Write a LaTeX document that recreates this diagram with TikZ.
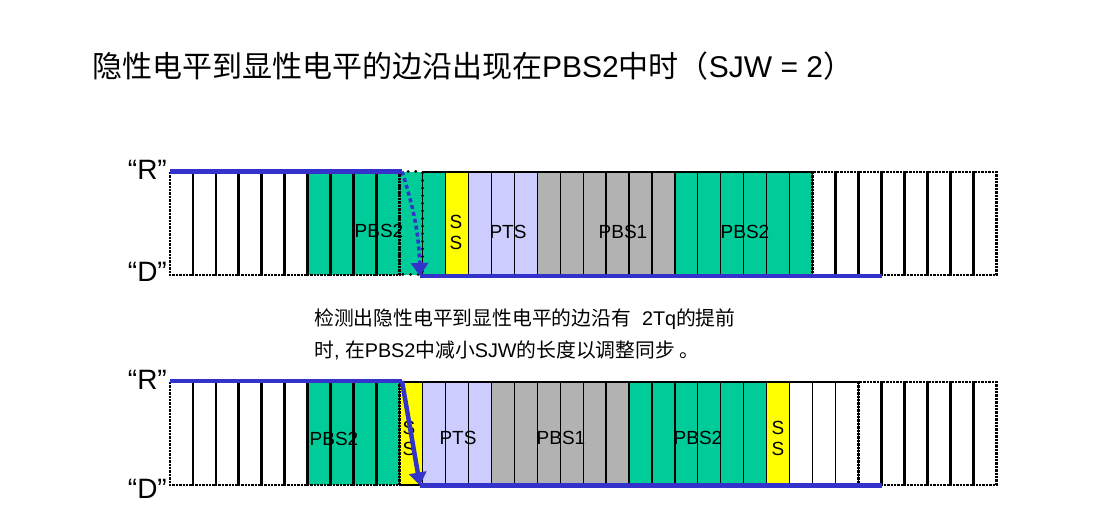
\documentclass[tikz,border=0pt]{standalone}
\usepackage{fontspec}
\setmainfont{Liberation Sans}
\newfontfamily\cjk{Noto Sans CJK SC}
\usetikzlibrary{arrows.meta}
\definecolor{CanGreen}{RGB}{0,204,153}
\definecolor{SsYellow}{RGB}{255,255,0}
\definecolor{PtsLilac}{RGB}{204,204,255}
\definecolor{PbsGray}{RGB}{178,178,178}
\definecolor{SigBlue}{RGB}{51,51,204}
\tikzset{
  cell/.style={rectangle,anchor=north west,minimum width=22.95pt,minimum height=103pt,inner sep=0pt,outer sep=0pt},
  wdot/.style={cell,fill=white},
  gdot/.style={cell,fill=CanGreen},
  gloose/.style={cell,fill=CanGreen},
  gcell/.style={cell,draw=black,line width=1.2pt,fill=CanGreen},
  ycell/.style={cell,draw=black,line width=1.2pt,fill=SsYellow},
  lcell/.style={cell,draw=black,line width=1.2pt,fill=PtsLilac},
  kcell/.style={cell,draw=black,line width=1.2pt,fill=PbsGray},
  wcell/.style={cell,draw=black,line width=1.2pt,fill=white},
  dotline/.style={draw=black,line width=2.8pt,dash pattern=on 2.4pt off 1pt},
  looseline/.style={draw=black,line width=3pt,dash pattern=on 0.1pt off 7.5pt,line cap=round},
}
\tikzset{sig/.style={draw=SigBlue,line width=4.5pt}, lvl/.style={anchor=base east,inner sep=0pt,font=\fontsize{28}{30}\selectfont}, seg/.style={inner sep=0pt,align=center,font=\fontsize{19}{21}\selectfont}}

\begin{document}
\begin{tikzpicture}[x=1pt,y=-1pt]
\useasboundingbox (0,0) rectangle (1114,518);
\node[anchor=base west,inner sep=0pt,font=\fontsize{30}{32}\selectfont] (title) at (92,78) {{\cjk 隐性电平到显性电平的边沿出现在}PBS2{\cjk 中时（}SJW = 2{\cjk ）}};
\foreach \a/\b/\k in {0/5/wdot,6/9/gdot,10/10/gloose,11/11/gcell,12/12/ycell,13/15/lcell,16/21/kcell,22/27/gcell,28/35/wdot}
  \foreach \i in {\a,...,\b}
    \node[\k] (t\i) at ({170+22.95*\i},172) {};
\foreach \a/\b/\k in {0/5/wdot,6/9/gdot,10/10/ycell,11/13/lcell,14/19/kcell,20/25/gcell,26/26/ycell,27/29/wcell,30/35/wdot}
  \foreach \i in {\a,...,\b}
    \node[\k] (b\i) at ({170+22.95*\i},382) {};
\foreach \i in {0,...,9,28,29,30,31,32,33,34,35}
  \draw[dotline] (t\i.north west) rectangle (t\i.south east);
\draw[looseline] (t10.north west) rectangle (t10.south east);
\foreach \i in {0,...,9,30,31,32,33,34,35}
  \draw[dotline] (b\i.north west) rectangle (b\i.south east);
\node[seg] (tpbs2) at (379,231) {PBS2};
\node[seg] (tss) at (456,232) {S\\S};
\node[seg] (tpts) at (508,232) {PTS};
\node[seg] (tpbs1) at (623,232) {PBS1};
\node[seg] (tpbs2r) at (745,232) {PBS2};
\node[seg] (bpbs2) at (334,439) {PBS2};
\node[seg] (bss) at (409,438) {S\\S};
\node[seg] (bpts) at (458,438) {PTS};
\node[seg] (bpbs1) at (561,438) {PBS1};
\node[seg] (bpbs2r) at (698,438) {PBS2};
\node[seg] (bssr) at (778,438) {S\\S};
\node[lvl] (lr1) at (167,180) {“R”};
\node[lvl] (ld1) at (167,282) {“D”};
\node[lvl] (lr2) at (167,390) {“R”};
\node[lvl] (ld2) at (167,498) {“D”};
\coordinate (r1a) at (170,171.5);
\coordinate (r1b) at (402,171.5);
\coordinate (d1a) at (420,276);
\coordinate (d1b) at (882,276);
\coordinate (r2a) at (170,381);
\coordinate (r2b) at (402,381);
\coordinate (d2a) at (420,485.5);
\coordinate (d2b) at (882,485.5);
\draw[sig] (r1a) -- (r1b);
\draw[sig,line width=3.5pt,dash pattern=on 4pt off 3pt,-{Triangle[length=13pt,width=17pt]}] (r1b) to[bend left=8] (d1a);
\draw[sig] (d1a) -- (d1b);
\draw[sig] (r2a) -- (r2b);
\draw[sig,-{Triangle[length=13pt,width=17pt]}] (r2b) -- (d2a);
\draw[sig] (d2a) -- (d2b);
\node[anchor=base west,inner sep=0pt,font=\fontsize{19.8}{21}\selectfont] (note1) at (314,326) {{\cjk 检测出隐性电平到显性电平的边沿有}\ \ 2Tq{\cjk 的提前}};
\node[anchor=base west,inner sep=0pt,font=\fontsize{19.8}{21}\selectfont] (note2) at (314,358) {{\cjk 时}, {\cjk 在}PBS2{\cjk 中减小}SJW{\cjk 的长度以调整同步 。}};
\end{tikzpicture}
\end{document}
